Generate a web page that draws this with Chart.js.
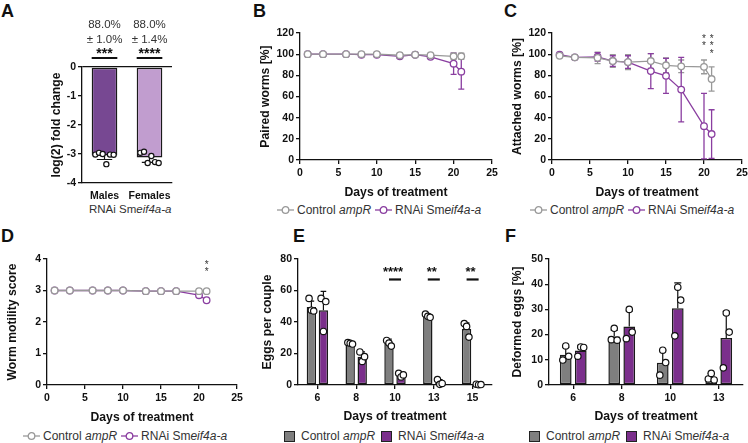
<!DOCTYPE html>
<html>
<head>
<meta charset="utf-8">
<script src="https://cdn.jsdelivr.net/npm/chart.js@4.4.1/dist/chart.umd.min.js"></script>
<style>
  body { margin: 0; background: #fff; width: 748px; height: 443px; position: relative; overflow: hidden;
         font-family: "Liberation Sans", Arial, sans-serif; }
  canvas { position: absolute; }
  .tag { position: absolute; font-weight: bold; font-size: 18px; line-height: 18px; color: #111; }
  .leg { position: absolute; display: flex; align-items: center; font-size: 12px; line-height: 14px; white-space: nowrap; color: #333; }
  .leg svg { display: block; margin-right: 3px; }
  .leg span { margin-right: 4px; }
  .sq { width: 9px; height: 9px; border: 1.3px solid #222; margin-right: 6px; }
  .sub { position: absolute; font-size: 11.5px; color: #333; white-space: nowrap; }
</style>
</head>
<body>
<div class="tag" style="left:1px;top:2px">A</div>
<div class="tag" style="left:253px;top:2px">B</div>
<div class="tag" style="left:504px;top:2px">C</div>
<div class="tag" style="left:1px;top:227px">D</div>
<div class="tag" style="left:293px;top:227px">E</div>
<div class="tag" style="left:505px;top:227px">F</div>

<div class="sub" style="left:89px;top:203px">RNAi Sm<i>eif4a-a</i></div>

<div class="leg" style="left:277px;top:203px">
  <svg width="17" height="10"><line x1="0" y1="5" x2="17" y2="5" stroke="#999" stroke-width="1.3"/><circle cx="8.5" cy="5" r="3.3" fill="#fff" stroke="#999" stroke-width="1.3"/></svg>
  <span>Control <i>ampR</i></span>
  <svg width="17" height="10"><line x1="0" y1="5" x2="17" y2="5" stroke="#8a3ea0" stroke-width="1.3"/><circle cx="8.5" cy="5" r="3.3" fill="#fff" stroke="#8a3ea0" stroke-width="1.3"/></svg>
  <span>RNAi Sm<i>eif4a-a</i></span>
</div>
<div class="leg" style="left:530px;top:203px">
  <svg width="17" height="10"><line x1="0" y1="5" x2="17" y2="5" stroke="#999" stroke-width="1.3"/><circle cx="8.5" cy="5" r="3.3" fill="#fff" stroke="#999" stroke-width="1.3"/></svg>
  <span>Control <i>ampR</i></span>
  <svg width="17" height="10"><line x1="0" y1="5" x2="17" y2="5" stroke="#8a3ea0" stroke-width="1.3"/><circle cx="8.5" cy="5" r="3.3" fill="#fff" stroke="#8a3ea0" stroke-width="1.3"/></svg>
  <span>RNAi Sm<i>eif4a-a</i></span>
</div>
<div class="leg" style="left:23px;top:429px">
  <svg width="17" height="10"><line x1="0" y1="5" x2="17" y2="5" stroke="#999" stroke-width="1.3"/><circle cx="8.5" cy="5" r="3.3" fill="#fff" stroke="#999" stroke-width="1.3"/></svg>
  <span>Control <i>ampR</i></span>
  <svg width="17" height="10"><line x1="0" y1="5" x2="17" y2="5" stroke="#8a3ea0" stroke-width="1.3"/><circle cx="8.5" cy="5" r="3.3" fill="#fff" stroke="#8a3ea0" stroke-width="1.3"/></svg>
  <span>RNAi Sm<i>eif4a-a</i></span>
</div>
<div class="leg" style="left:284px;top:429px">
  <div class="sq" style="background:#7f7f7f"></div><span style="margin-right:6px">Control <i>ampR</i></span>
  <div class="sq" style="background:#7b2f8c"></div><span>RNAi Sm<i>eif4a-a</i></span>
</div>
<div class="leg" style="left:529px;top:429px">
  <div class="sq" style="background:#7f7f7f"></div><span style="margin-right:6px">Control <i>ampR</i></span>
  <div class="sq" style="background:#7b2f8c"></div><span>RNAi Sm<i>eif4a-a</i></span>
</div>

<script>
// ---- data ----
// A: knockdown
const knockGroups = ['Males', 'Females'];
const knockMeans = [-3.05, -3.12];
const knockSd = [0.14, 0.17];
const knockPoints = [[-3.02, -2.96, -3.0, -3.35, -3.02, -3.03], [-2.96, -2.92, -3.31, -3.07, -3.28, -3.31]];
const knockPercent = ['88.0%', '88.0%'];
const knockPercentSd = ['± 1.0%', '± 1.4%'];
const knockStars = ['***', '****'];

// B, C, D: time course
const days = [1, 3, 6, 8, 10, 13, 15, 17, 20, 21];
const pairedCtrl = [100, 100, 100, 100, 100, 99, 99.5, 99, 98, 98];
const pairedCtrlSd = [0, 0, 0, 0, 0, 2, 0, 1.5, 3, 3];
const pairedRnai = [100, 100, 100, 99.5, 99.5, 98, 99.5, 97.5, 91, 83.5];
const pairedRnaiSd = [0, 0, 0, 0.8, 0.8, 2, 0, 1.5, 10, 16.5];

const attachedCtrl = [98.5, 97, 96.5, 93.5, 92.5, 93.5, 89.5, 88.5, 88, 76.5];
const attachedCtrlSd = [1.5, 2, 5.5, 6, 7, 7, 7, 6, 6.5, 11.5];
const attachedRnai = [99.5, 97, 97.5, 93.5, 92.5, 84, 79.5, 66.5, 32, 24.5];
const attachedRnaiSd = [1, 1.5, 4, 5, 6, 16.5, 16.5, 30.5, 31, 23];
const attachedStars = [[20, '**'], [21, '***']];

const motilityCtrl = [3, 3, 3, 3, 3, 2.98, 2.98, 2.98, 2.98, 2.98];
const motilityRnai = [3, 3, 3, 3, 3, 2.98, 2.98, 2.98, 2.85, 2.69];
const motilityStars = [[21, '**']];

// E: eggs per couple
const eggDays = ['6', '8', '10', '13', '15'];
const eggCtrl = [49.6, 26.6, 26.5, 43.6, 35.6];
const eggCtrlSd = [3.6, 0.8, 2.6, 1.6, 3.8];
const eggCtrlPts = [[55, 47.5, 47], [27, 26.5, 26], [28.3, 26.6, 24.7], [45, 43.6, 43], [39, 37.2, 30.4]];
const eggRnai = [47.4, 18, 6.4, 1.6, 0.3];
const eggRnaiSd = [12, 3, 1.3, 1.8, 0.2];
const eggRnaiPts = [[55, 34, 53], [21, 15, 18], [7.4, 5.1, 6.4], [3.5, 0.4, 1], [0.5, 0.2, 0.3]];
const eggSigIndex = [2, 3, 4];
const eggSigText = ['****', '**', '**'];

// F: deformed eggs
const defDays = ['6', '8', '10', '13'];
const defCtrl = [12, 19.2, 8.8, 3.2];
const defCtrlSd = [2.9, 2.6, 5, 1.4];
const defCtrlPts = [[9.9, 15.5, 11.4], [18, 22.5, 17.8], [3.9, 13.8, 8.9], [2.4, 4.6, 2]];
const defRnai = [13.7, 23.2, 30.5, 18.7];
const defRnaiSd = [2, 6.2, 10, 10.5];
const defRnaiPts = [[11.4, 15.1, 14.9], [18.4, 30, 21], [19.5, 38.8, 33.7], [6.8, 28.6, 21]];

const GREY = '#999999', PURPLE = '#8a3ea0';
const BAR_GREY = '#7f7f7f', BAR_PURPLE = '#7b2f8c';

Chart.defaults.font.family = '"Liberation Sans", Arial, sans-serif';
Chart.defaults.color = '#111';
Chart.defaults.animation = false;
Chart.defaults.plugins.legend.display = false;
Chart.defaults.plugins.tooltip.enabled = false;

// ---- plugins ----
const lineErrors = {
  id: 'lineErrors',
  beforeDatasetsDraw(chart) {
    const ctx = chart.ctx, ys = chart.scales.y;
    chart.data.datasets.forEach((ds, di) => {
      if (!ds.errors) return;
      const meta = chart.getDatasetMeta(di);
      ctx.save();
      ctx.strokeStyle = ds.borderColor;
      ctx.lineWidth = 1.3;
      meta.data.forEach((pt, i) => {
        const e = ds.errors[i];
        if (!e) return;
        const v = ds.data[i].y;
        const t = ys.getPixelForValue(v + e), b = ys.getPixelForValue(Math.max(v - e, ys.min));
        ctx.beginPath();
        ctx.moveTo(pt.x, t); ctx.lineTo(pt.x, b);
        ctx.moveTo(pt.x - 3, t); ctx.lineTo(pt.x + 3, t);
        ctx.moveTo(pt.x - 3, b); ctx.lineTo(pt.x + 3, b);
        ctx.stroke();
      });
      ctx.restore();
    });
  }
};

const lineStars = {
  id: 'lineStars',
  afterDatasetsDraw(chart, args, opts) {
    if (!opts.marks) return;
    const ctx = chart.ctx, xs = chart.scales.x;
    ctx.save();
    ctx.fillStyle = '#333';
    ctx.font = '10px "Liberation Sans", Arial, sans-serif';
    ctx.textAlign = 'center';
    ctx.textBaseline = 'top';
    opts.marks.forEach(([d, s]) => {
      const x = xs.getPixelForValue(d);
      for (let k = 0; k < s.length; k++) ctx.fillText('*', x, chart.chartArea.top + 1 + k * 7.5);
    });
    ctx.restore();
  }
};

const barExtras = {
  id: 'barExtras',
  afterDatasetsDraw(chart) {
    const ctx = chart.ctx, ys = chart.scales.y;
    chart.data.datasets.forEach((ds, di) => {
      const meta = chart.getDatasetMeta(di);
      ctx.save();
      ctx.strokeStyle = '#111';
      ctx.lineWidth = 1.2;
      meta.data.forEach((bar, i) => {
        const v = ds.data[i], e = ds.errors ? ds.errors[i] : 0;
        if (e) {
          const end = ys.getPixelForValue(v + Math.sign(v || 1) * e);
          ctx.beginPath();
          ctx.moveTo(bar.x, bar.y); ctx.lineTo(bar.x, end);
          ctx.moveTo(bar.x - bar.width * 0.3, end); ctx.lineTo(bar.x + bar.width * 0.3, end);
          ctx.stroke();
        }
        const pts = ds.points ? ds.points[i] : [];
        const sp = bar.width / (pts.length + 1);
        pts.forEach((p, k) => {
          const x = bar.x + (k - (pts.length - 1) / 2) * sp;
          ctx.beginPath();
          ctx.arc(x, ys.getPixelForValue(p), ds.dotR || 3.2, 0, Math.PI * 2);
          ctx.fillStyle = '#fff';
          ctx.fill();
          ctx.stroke();
        });
      });
      ctx.restore();
    });
  }
};

const barSig = {
  id: 'barSig',
  afterDatasetsDraw(chart, args, opts) {
    if (!opts.index) return;
    const ctx = chart.ctx, ys = chart.scales.y;
    const a = chart.getDatasetMeta(0), b = chart.getDatasetMeta(1);
    const y = ys.getPixelForValue(opts.value);
    ctx.save();
    ctx.strokeStyle = '#111';
    ctx.fillStyle = '#111';
    ctx.lineWidth = 2.2;
    ctx.font = 'bold 13px "Liberation Sans", Arial, sans-serif';
    ctx.textAlign = 'center';
    ctx.textBaseline = 'alphabetic';
    opts.index.forEach((idx, k) => {
      const x1 = a.data[idx].x, x2 = b.data[idx].x;
      ctx.beginPath(); ctx.moveTo(x1, y); ctx.lineTo(x2, y); ctx.stroke();
      ctx.fillText(opts.text[k], (x1 + x2) / 2 - 2, y - 3);
    });
    ctx.restore();
  }
};

const knockHead = {
  id: 'knockHead',
  afterDatasetsDraw(chart, args, opts) {
    if (!opts.percent) return;
    const ctx = chart.ctx, top = chart.chartArea.top;
    const meta = chart.getDatasetMeta(0);
    ctx.save();
    ctx.textAlign = 'center';
    ctx.textBaseline = 'middle';
    ctx.strokeStyle = '#111';
    ctx.lineWidth = 2;
    meta.data.forEach((bar, i) => {
      ctx.fillStyle = '#333';
      ctx.font = '11.5px "Liberation Sans", Arial, sans-serif';
      ctx.fillText(opts.percent[i], bar.x, top - 42);
      ctx.fillText(opts.sd[i], bar.x, top - 27);
      ctx.fillStyle = '#111';
      ctx.font = 'bold 14px "Liberation Sans", Arial, sans-serif';
      ctx.fillText(opts.stars[i], bar.x, top - 13);
      ctx.beginPath();
      ctx.moveTo(bar.x - bar.width / 2, top - 9);
      ctx.lineTo(bar.x + bar.width / 2, top - 9);
      ctx.stroke();
    });
    ctx.restore();
  }
};

// ---- layout helpers ----
const TITLE_SIZE = 12.2;
function frame(box, area, yTitleX, xTitleY) {
  const lh = TITLE_SIZE * 1.2;
  return {
    box, area,
    padding: { left: 0, top: area.t - box.t, right: box.r - area.r, bottom: 0 },
    yWidth: area.l - box.l,
    xHeight: box.b - area.b,
    yTitlePad: yTitleX - box.l - lh / 2,
    xTitlePad: xTitleY == null ? 0 : box.b - xTitleY - lh / 2
  };
}

function makeCanvas(box) {
  const c = document.createElement('canvas');
  c.width = box.r - box.l;
  c.height = box.b - box.t;
  c.style.left = box.l + 'px';
  c.style.top = box.t + 'px';
  document.body.appendChild(c);
  return c;
}

function scales(f, x, y) {
  const axisLine = { color: '#111', width: 1.3 };
  return {
    x: {
      type: x.type, min: x.min, max: x.max, offset: x.type === 'category',
      border: axisLine,
      grid: { drawOnChartArea: false, offset: false, color: '#111', lineWidth: 1.3, tickLength: x.tick === 0 ? 0 : 4, drawTicks: x.tick !== 0 },
      ticks: { stepSize: x.step, font: { size: 10.5, weight: 'bold' }, padding: x.pad || 3, maxRotation: 0, autoSkip: false, color: '#111' },
      title: { display: !!x.title, text: x.title, font: { size: TITLE_SIZE, weight: 'bold' }, color: '#111', padding: { top: 0, bottom: f.xTitlePad } },
      afterFit: s => { s.height = f.xHeight; s.paddingLeft = 0; s.paddingRight = 0; }
    },
    y: {
      min: y.min, max: y.max,
      border: axisLine,
      grid: {
        drawOnChartArea: !!y.zeroLine, lineWidth: 1.3, tickLength: 4, tickColor: '#111',
        color: c => (y.zeroLine && c.tick && c.tick.value === 0) ? '#111' : 'rgba(0,0,0,0)'
      },
      ticks: { stepSize: y.step, font: { size: 10.5, weight: 'bold' }, padding: 2, color: '#111' },
      title: { display: true, text: y.title, font: { size: TITLE_SIZE, weight: 'bold' }, color: '#111', padding: { top: f.yTitlePad, bottom: 0 } },
      afterFit: s => { s.width = f.yWidth; s.paddingTop = 0; s.paddingBottom = 0; }
    }
  };
}

function xy(vals) { return days.map((d, i) => ({ x: d, y: vals[i] })); }

function lineSet(vals, sd, color) {
  return {
    data: xy(vals), errors: sd, borderColor: color, borderWidth: 1.3,
    pointRadius: 3.3, pointBorderWidth: 1.3, pointBackgroundColor: '#fff', pointBorderColor: color, tension: 0
  };
}

function timeChart(f, yOpt, ctrl, ctrlSd, rnai, rnaiSd, marks) {
  new Chart(makeCanvas(f.box), {
    type: 'line',
    data: { datasets: [lineSet(ctrl, ctrlSd, GREY), lineSet(rnai, rnaiSd, PURPLE)] },
    options: {
      responsive: false, devicePixelRatio: 1,
      layout: { padding: f.padding },
      scales: scales(f, { type: 'linear', min: 0, max: 25, step: 5, title: 'Days of treatment' }, yOpt),
      plugins: { lineStars: { marks } }
    },
    plugins: [lineErrors, lineStars]
  });
}

function barChart(f, yOpt, labels, ctrl, ctrlSd, ctrlPts, rnai, rnaiSd, rnaiPts, sig) {
  const common = { borderColor: '#1a1a1a', borderWidth: 1.5, borderSkipped: false, categoryPercentage: 0.62, barPercentage: 0.78 };
  new Chart(makeCanvas(f.box), {
    type: 'bar',
    data: {
      labels,
      datasets: [
        Object.assign({ data: ctrl, errors: ctrlSd, points: ctrlPts, backgroundColor: BAR_GREY }, common),
        Object.assign({ data: rnai, errors: rnaiSd, points: rnaiPts, backgroundColor: BAR_PURPLE }, common)
      ]
    },
    options: {
      responsive: false, devicePixelRatio: 1,
      layout: { padding: f.padding },
      scales: scales(f, { type: 'category', title: 'Days of treatment' }, yOpt),
      plugins: { barSig: sig || {} }
    },
    plugins: [barExtras, barSig]
  });
}

// ---- A ----
const fA = frame({ l: 0, t: 0, r: 200, b: 222 }, { l: 82, t: 67, r: 172, b: 183 }, 57, null);
new Chart(makeCanvas(fA.box), {
  type: 'bar',
  data: {
    labels: knockGroups,
    datasets: [{
      data: knockMeans, errors: knockSd, points: knockPoints, dotR: 2.6,
      backgroundColor: ['#774892', '#c19dcf'], borderColor: '#1a1a1a', borderWidth: 1.5, borderSkipped: false,
      categoryPercentage: 1, barPercentage: 0.57
    }]
  },
  options: {
    responsive: false, devicePixelRatio: 1,
    layout: { padding: fA.padding },
    scales: scales(fA, { type: 'category', tick: 0, pad: 7 }, { min: -4, max: 0, step: 1, title: 'log(2) fold change', zeroLine: true }),
    plugins: { knockHead: { percent: knockPercent, sd: knockPercentSd, stars: knockStars } }
  },
  plugins: [barExtras, knockHead]
});

// ---- B, C, D ----
timeChart(frame({ l: 240, t: 20, r: 510, b: 200 }, { l: 300, t: 33, r: 492, b: 160 }, 266, 193),
  { min: 0, max: 120, step: 20, title: 'Paired worms [%]' },
  pairedCtrl, pairedCtrlSd, pairedRnai, pairedRnaiSd, null);

timeChart(frame({ l: 495, t: 20, r: 748, b: 200 }, { l: 552, t: 33, r: 742, b: 160 }, 518, 193),
  { min: 0, max: 120, step: 20, title: 'Attached worms [%]' },
  attachedCtrl, attachedCtrlSd, attachedRnai, attachedRnaiSd, attachedStars);

timeChart(frame({ l: 0, t: 240, r: 252, b: 425 }, { l: 47, t: 259, r: 237, b: 385 }, 13, 418),
  { min: 0, max: 4, step: 1, title: 'Worm motility score' },
  motilityCtrl, null, motilityRnai, null, motilityStars);

// ---- E, F ----
barChart(frame({ l: 245, t: 240, r: 500, b: 425 }, { l: 298, t: 259, r: 492, b: 385 }, 268, 417),
  { min: 0, max: 80, step: 20, title: 'Eggs per couple' },
  eggDays, eggCtrl, eggCtrlSd, eggCtrlPts, eggRnai, eggRnaiSd, eggRnaiPts,
  { index: eggSigIndex, text: eggSigText, value: 67 });

barChart(frame({ l: 495, t: 240, r: 748, b: 425 }, { l: 549, t: 259, r: 743, b: 385 }, 518, 417),
  { min: 0, max: 50, step: 10, title: 'Deformed eggs [%]' },
  defDays, defCtrl, defCtrlSd, defCtrlPts, defRnai, defRnaiSd, defRnaiPts, null);
</script>
</body>
</html>
